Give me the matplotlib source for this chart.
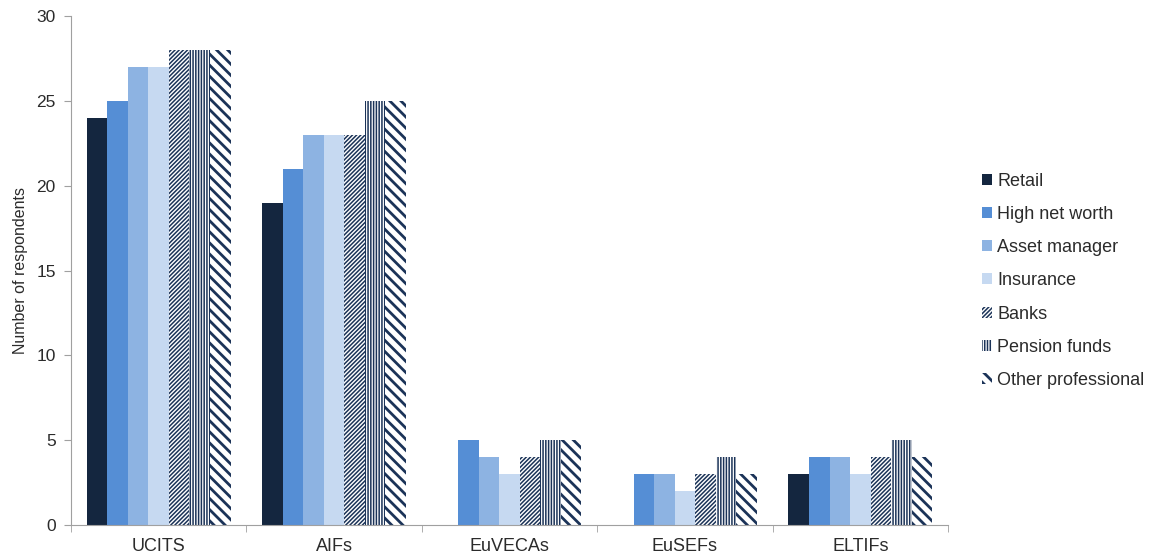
import matplotlib
matplotlib.use("Agg")
import matplotlib.pyplot as plt
import numpy as np

plt.rcParams['font.family'] = ['Liberation Sans', 'DejaVu Sans']
plt.rcParams['hatch.linewidth'] = 1.6
plt.rcParams['text.color'] = '#2b2b2b'
plt.rcParams['axes.labelcolor'] = '#2b2b2b'
plt.rcParams['xtick.labelcolor'] = '#2b2b2b'
plt.rcParams['ytick.labelcolor'] = '#2b2b2b'

categories = ["UCITS", "AIFs", "EuVECAs", "EuSEFs", "ELTIFs"]
series_names = ["Retail", "High net worth", "Asset manager", "Insurance",
                "Banks", "Pension funds", "Other professional"]
retail = [24, 19, 0, 0, 3]
high_net_worth = [25, 21, 5, 3, 4]
asset_manager = [27, 23, 4, 3, 4]
insurance = [27, 23, 3, 2, 3]
banks = [28, 23, 4, 3, 4]
pension_funds = [28, 25, 5, 4, 5]
other_professional = [28, 25, 5, 3, 4]
series = [retail, high_net_worth, asset_manager, insurance, banks,
          pension_funds, other_professional]

navy = "#14263f"
hatch_col = "#1b3358"
styles = [
    dict(color=navy),
    dict(color="#558ed5"),
    dict(color="#8db3e2"),
    dict(color="#c6d9f1"),
    dict(facecolor="white", edgecolor=hatch_col, hatch="////////", linewidth=0),
    dict(facecolor="white", edgecolor=hatch_col, hatch="||||||", linewidth=0),
    dict(facecolor="white", edgecolor=hatch_col, hatch="\\\\\\", linewidth=0),
]
hatch_lw = [None, None, None, None, 1.1, 1.1, 2.0]

fig = plt.figure(figsize=(11.5, 5.58), dpi=100)
ax = fig.add_axes([0.0617, 0.0591, 0.7627, 0.912])

x = np.arange(len(categories))
n = len(series)
group_w = 0.82
w = group_w / n
for i, (vals, st) in enumerate(zip(series, styles)):
    bars = ax.bar(x - group_w / 2 + w * (i + 0.5), vals, width=w,
                  label=series_names[i], **st)
    if hatch_lw[i] is not None:
        for b in bars:
            if hasattr(b, "set_hatch_linewidth"):
                b.set_hatch_linewidth(hatch_lw[i])

ax.set_xlim(-0.5, len(categories) - 0.5)
ax.set_ylim(0, 30)
ax.set_yticks(range(0, 31, 5))
ax.set_xticks(x)
ax.set_xticklabels(categories, fontsize=13)
ax.set_xticks(np.arange(-0.5, len(categories), 1), minor=True)
ax.tick_params(axis='x', which='major', length=0, pad=9)
ax.tick_params(axis='x', which='minor', length=5, color="#a0a0a0")
ax.tick_params(axis='y', length=5, color="#a0a0a0", labelsize=12.5, pad=6)
for s in ["top", "right"]:
    ax.spines[s].set_visible(False)
for s in ["left", "bottom"]:
    ax.spines[s].set_color("#a0a0a0")
ax.set_ylabel("Number of respondents", fontsize=11.5, labelpad=6)

leg = ax.legend(loc="center left", bbox_to_anchor=(1.02, 0.48), frameon=False,
                fontsize=13, handlelength=0.55, handleheight=0.55,
                handletextpad=0.3, labelspacing=0.9)
for h, lw in zip(leg.legend_handles, hatch_lw):
    if lw is not None and hasattr(h, "set_hatch_linewidth"):
        h.set_hatch_linewidth(lw)

fig.savefig("out.png", dpi=100)
